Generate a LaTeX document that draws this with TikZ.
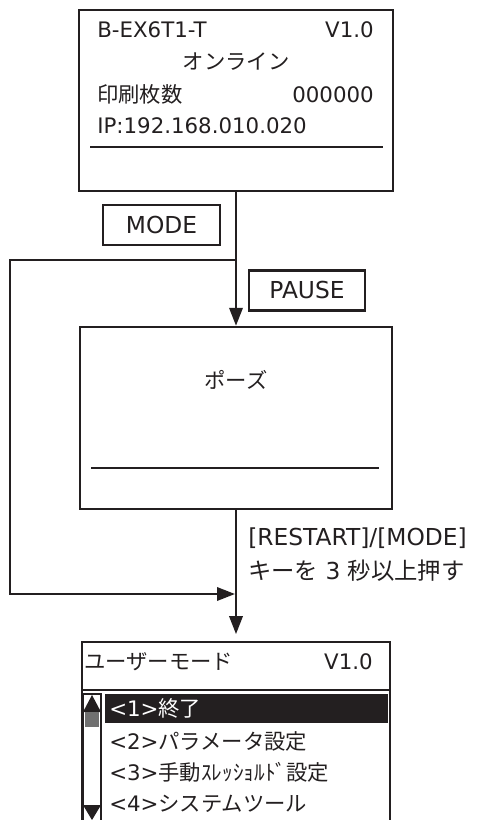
\documentclass[tikz,border=0pt]{standalone}
\usepackage{fontspec}
\setmainfont{Noto Sans CJK JP}
\newfontfamily\lat{DejaVu Sans}
\usetikzlibrary{arrows.meta,fit}
\definecolor{ink}{HTML}{231F20}
\definecolor{thumb}{HTML}{707070}
\begin{document}
\begin{tikzpicture}[x=0.75pt,y=-0.75pt,
  panel/.style={draw=ink, line width=1.8pt, inner sep=0pt},
  keybox/.style={draw=ink, line width=1.6pt, minimum width=87.5pt, minimum height=30pt, inner sep=0pt, font=\lat\fontsize{17.5}{20}\selectfont, text=ink},
  txt/.style={inner sep=0pt, font=\fontsize{16}{19}\selectfont, text=ink},
  note/.style={inner sep=0pt, font=\fontsize{17.5}{20}\selectfont, text=ink},
  conn/.style={draw=ink, line width=1.8pt},
  arr/.style={conn, -{Triangle[length=13.5pt,width=10pt]}}]
\useasboundingbox (0,0) rectangle (496,820);

% top panel
\node[panel, fit={(79,10) (393,191)}] (top) {};
\node[txt, anchor=base west] (model) at (97,38) {\lat B-EX6T1-T};
\node[txt, anchor=base east] (ver1) at (374,38) {\lat V1.0};
\node[txt, anchor=base] (online) at (236,70) {オンライン};
\node[txt, anchor=base west] (count) at (97,103) {印刷枚数};
\node[txt, anchor=base east] (countval) at (374,103) {\lat 000000};
\node[txt, anchor=base west] (ip) at (97,133) {\lat IP:192.168.010.020};
\coordinate (tl1) at (90,147); \coordinate (tl2) at (383,147);
\draw[conn] (tl1) -- (tl2);

% pause panel
\node[panel, fit={(80,327) (392,509)}] (pause) {};
\node[txt] (pausetxt) at (236,380) {ポーズ};
\coordinate (pl1) at (91,468); \coordinate (pl2) at (379,468);
\draw[conn] (pl1) -- (pl2);

% key labels
\node[keybox] (mode) at (161.5,225) {MODE};
\node[keybox] (pausekey) at (307,290.5) {PAUSE};

% user mode panel
\begin{scope}
\clip (0,0) rectangle (496,820);
\node[panel, fit={(82,642) (390,840)}] (user) {};
\end{scope}
\node[txt, anchor=base west] (utitle) at (84,669) {ユーザーモード};
\node[txt, anchor=base east] (ver2) at (373,669) {\lat V1.0};
\coordinate (ul1) at (82,690); \coordinate (ul2) at (390,690);
\draw[conn] (ul1) -- (ul2);

% highlight and menu
\fill[ink] (105,694) rectangle (388,723);
\node[txt, anchor=base west, text=white] (m1) at (109,716) {{\lat <1>}終了};
\node[txt, anchor=base west] (m2) at (109,749) {{\lat <2>}パラメータ設定};
\node[txt, anchor=base west] (m3) at (109,780) {{\lat <3>}手動ｽﾚｯｼｮﾙﾄﾞ設定};
\node[txt, anchor=base west] (m4) at (109,811) {{\lat <4>}システムツール};

% scrollbar
\draw[ink, line width=1.6pt] (83,820) -- (83,694) -- (101,694) -- (101,820);
\fill[ink] (83,712) -- (92,695) -- (101,712) -- cycle;
\fill[thumb] (85,712) rectangle (99,727);
\fill[ink] (83,805) -- (101,805) -- (92,820) -- cycle;

% connectors
\coordinate (split) at (236,260);
\coordinate (cornerA) at (10,260);
\coordinate (cornerB) at (10,594);
\coordinate (merge) at (235,594);
\draw[arr] (top.south) -- (pause.north);
\draw[arr] (split) -- (cornerA) -- (cornerB) -- (merge);
\draw[arr] (pause.south) -- ([yshift=5pt]user.north);

% restart note
\node[note, anchor=base west] (note1) at (248,545) {\lat [RESTART]/[MODE]};
\node[note, anchor=base west] (note2) at (248,579) {キーを{\lat{} 3 }秒以上押す};
\end{tikzpicture}
\end{document}
